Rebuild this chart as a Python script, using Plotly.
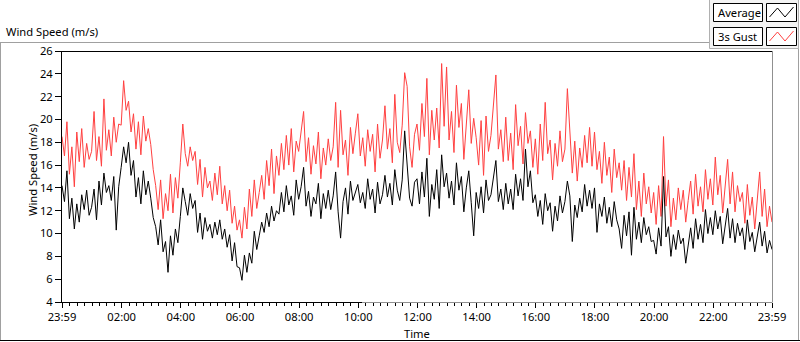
import plotly.graph_objects as go
import pandas as pd

# ---------------- data (5-minute samples, 23:59 -> 23:59) ----------------
start_time = "2023-01-01 23:59"
sample_minutes = 5

gust = [
    18.5, 16.8, 19.8, 15.2, 17.6, 14.1, 18.9, 16.3, 19.2, 15.8, 17.9, 16.5,
    17.2, 20.7, 16.4, 18.5, 15.9, 21.8, 17.3, 19.1, 16.8, 20.2, 18.0, 19.6,
    19.5, 23.4, 20.8, 21.6, 18.9, 20.5, 17.4, 19.8, 16.9, 20.3, 18.1, 19.2,
    17.8, 15.6, 14.2, 12.1, 14.7, 11.3, 13.5, 12.0, 15.2, 11.8, 14.9, 13.1,
    16.2, 19.6, 17.0, 15.9, 17.6, 16.4, 17.2, 14.3, 16.5, 13.2, 15.8, 14.0,
    14.6, 12.9, 15.3, 13.4, 15.9, 12.6, 14.2, 12.0, 13.8, 10.9, 12.4, 10.3,
    11.2, 9.6, 12.3, 10.4, 13.9, 11.5, 14.7, 12.2, 13.6, 15.1, 13.0, 16.4,
    14.2, 17.4, 13.5, 16.8, 15.1, 17.9, 15.6, 18.6, 16.0, 19.2, 15.4, 18.1,
    17.2, 19.0, 20.7, 16.3, 18.4, 15.2, 17.7, 16.1, 18.9, 14.8, 17.5, 16.0,
    18.3, 16.4, 17.6, 21.5, 15.8, 20.8, 16.9, 18.2, 15.1, 19.3, 17.0, 18.8,
    20.5, 16.8, 18.4, 15.9, 19.1, 17.2, 18.7, 15.4, 19.6, 16.6, 18.2, 21.2,
    17.4, 19.2, 16.2, 22.2, 18.0, 17.1, 19.5, 24.1, 22.9, 17.6, 15.8, 18.7,
    19.6, 17.3, 21.4, 18.5, 23.6, 16.9, 20.8, 18.2, 21.0, 17.5, 24.9, 19.4,
    24.6, 18.2, 20.7, 17.1, 23.0, 19.3, 21.4, 16.5, 19.8, 22.6, 17.9, 20.1,
    18.4, 16.0, 19.9, 15.1, 20.3, 17.2, 18.6, 21.5, 23.9, 17.4, 19.1, 16.3,
    20.2, 16.4, 18.8, 15.6, 21.3, 17.7, 19.4, 16.1, 20.6, 17.9, 19.0, 15.8,
    18.3, 15.2, 19.6, 16.4, 21.5, 17.0, 18.2, 14.7, 17.9, 15.9, 19.0, 16.3,
    17.4, 22.7, 19.2, 15.3, 18.1, 14.6, 17.5, 15.8, 18.6, 16.2, 19.3, 15.9,
    18.9, 15.6, 17.2, 14.4, 18.0, 15.1, 16.7, 13.6, 17.4, 14.9, 16.2, 13.8,
    16.4, 12.9, 15.8, 13.2, 17.0, 12.1, 14.6, 11.5, 15.3, 12.6, 14.1, 11.8,
    13.6, 10.8, 14.2, 11.5, 18.5, 12.4, 14.7, 10.6, 13.1, 11.2, 14.0, 12.1,
    13.8, 11.0, 12.9, 14.6, 11.7, 15.2, 12.4, 14.1, 11.9, 15.6, 13.0, 14.8,
    12.5, 16.7, 13.4, 15.1, 11.8, 14.3, 16.5, 12.6, 15.4, 11.9, 14.2, 12.8,
    13.6, 10.9, 14.3, 11.6, 13.2, 10.4, 12.8, 15.4, 11.5, 13.9, 10.6, 12.4,
    11.0,
]

average = [
    14.2, 12.8, 15.5, 11.3, 13.1, 10.4, 12.6, 11.0, 13.4, 12.1, 13.8, 11.6,
    12.3, 13.9, 11.2, 14.6, 12.5, 15.3, 13.6, 14.2, 12.9, 15.0, 10.3, 14.1,
    15.8, 17.6, 16.2, 18.0, 15.1, 16.4, 13.2, 14.9, 12.6, 15.5, 13.4, 14.6,
    13.1, 11.4, 10.6, 9.0, 11.2, 8.4, 9.3, 6.6, 9.8, 8.1, 10.4, 9.2,
    11.5, 14.0, 12.8, 11.6, 13.5, 12.2, 12.9, 10.1, 11.8, 9.5, 11.4, 10.2,
    10.8, 9.6, 11.0, 9.9, 11.2, 9.5, 10.4, 8.8, 9.9, 7.6, 9.2, 7.1,
    7.0, 5.9, 8.1, 6.6, 8.3, 7.4, 10.2, 8.6, 9.8, 11.0, 10.1, 11.8,
    10.6, 12.4, 11.1, 12.0, 11.7, 13.6, 11.9, 14.2, 12.5, 13.3, 11.6, 14.7,
    13.0, 14.1, 15.8, 12.4, 13.7, 11.5, 13.2, 12.6, 14.4, 11.3, 13.5, 12.2,
    13.8, 12.1, 13.3, 15.4, 11.9, 9.6, 12.8, 14.0, 11.7, 14.6, 12.9, 13.6,
    14.3, 12.7, 13.6, 12.2, 14.8, 13.0, 13.9, 11.8, 14.5, 12.6, 13.4, 15.1,
    13.2, 14.4, 12.5, 15.6, 13.8, 12.9, 14.7, 19.0, 16.3, 13.1, 12.4, 14.5,
    14.8, 12.6, 15.4, 13.2, 16.6, 11.5, 14.3, 13.0, 15.6, 12.2, 16.9, 14.1,
    15.3, 13.1, 14.6, 12.5, 16.2, 13.8, 15.0, 11.9, 14.0, 15.5, 12.7, 9.8,
    13.6, 12.2, 14.1, 11.8, 14.7, 12.9, 13.4, 14.9, 16.4, 12.8, 13.9, 12.1,
    14.4, 12.6, 13.9, 12.1, 15.2, 13.3, 14.8, 12.9, 17.4, 14.1, 15.5, 12.7,
    13.4, 11.5, 12.9, 10.8, 13.5, 12.0, 12.7, 10.2, 12.4, 11.1, 13.3, 11.8,
    12.8, 14.6, 13.3, 9.3, 12.5, 11.4, 13.1, 11.9, 14.3, 12.4, 13.8, 12.2,
    14.0, 10.1, 12.6, 11.5, 13.2, 10.9, 12.3, 10.6, 12.8, 11.2, 10.4, 8.7,
    11.6, 9.8, 11.9, 8.1, 12.3, 9.5, 11.0, 9.2, 11.4, 9.9, 10.6, 9.3,
    9.4, 8.2, 10.5, 8.9, 15.0, 9.7, 10.6, 8.0, 9.9, 8.6, 10.3, 9.1,
    9.6, 7.4, 9.0, 10.5, 8.7, 11.3, 9.5, 10.8, 9.2, 12.1, 10.0, 11.4,
    9.9, 12.0, 10.4, 11.5, 9.1, 10.8, 12.2, 9.6, 11.3, 9.2, 10.9, 9.8,
    10.5, 8.6, 11.2, 9.3, 10.1, 8.4, 9.8, 11.0, 8.9, 10.2, 8.3, 9.4,
    8.6,
]

tick_times = [
    "2023-01-01 23:59", "2023-01-02 02:00", "2023-01-02 04:00", "2023-01-02 06:00",
    "2023-01-02 08:00", "2023-01-02 10:00", "2023-01-02 12:00", "2023-01-02 14:00",
    "2023-01-02 16:00", "2023-01-02 18:00", "2023-01-02 20:00", "2023-01-02 22:00",
    "2023-01-02 23:59",
]
tick_labels = ["23:59", "02:00", "04:00", "06:00", "08:00", "10:00", "12:00",
               "14:00", "16:00", "18:00", "20:00", "22:00", "23:59"]

series_names = ["Average", "3s Gust"]
chart_title = "Wind Speed (m/s)"

times = pd.date_range(start_time, periods=len(gust), freq=f"{sample_minutes}min")

# ---------------- layout geometry (pixels) ----------------
W, H = 800, 342
L, R, T, B = 62, 772, 51, 302
FONT = "Noto Sans"
FS = 11.2


def px(x):
    return (x - L) / (R - L)


def py(y):
    return (B - y) / (B - T)


fig = go.Figure()
fig.add_trace(go.Scatter(x=times, y=gust, mode="lines", name=series_names[1],
                         line=dict(color="#ff4040", width=1), hoverinfo="skip"))
fig.add_trace(go.Scatter(x=times, y=average, mode="lines", name=series_names[0],
                         line=dict(color="#000000", width=1), hoverinfo="skip"))

shapes = []


def line(x0, y0, x1, y1, color, width=1):
    shapes.append(dict(type="line", xref="paper", yref="paper",
                       x0=px(x0), y0=py(y0), x1=px(x1), y1=py(y1),
                       line=dict(color=color, width=width), layer="above"))


def rect(x0, y0, x1, y1, fill, color, width=1):
    shapes.append(dict(type="rect", xref="paper", yref="paper",
                       x0=px(x0), y0=py(y0), x1=px(x1), y1=py(y1),
                       fillcolor=fill, line=dict(color=color, width=width), layer="above"))


# outer frame
line(0, 42.5, 710, 42.5, "#a0a0a0")
line(0.5, 42.5, 0.5, 341, "#a0a0a0")
line(798.5, 48, 798.5, 341, "#a0a0a0")
line(0, 340.5, 800, 340.5, "#000000")
# plot frame
line(L, T + 0.5, R, T + 0.5, "#000000")
line(R + 0.5, T, R + 0.5, B, "#909090")
line(L + 300, B + 0.5, R + 0.5, B + 0.5, "#909090")

# legend container and items
rect(709.5, -1, 798.5, 48.5, "#f4f4f4", "#b0b0b0")
rect(713.5, 3.5, 762.5, 21.5, "#ffffff", "#000000")
rect(766.5, 3.5, 796.5, 21.5, "#ffffff", "#000000")
rect(713.5, 27.5, 762.5, 45.5, "#ffffff", "#000000")
rect(766.5, 27.5, 796.5, 45.5, "#ffffff", "#000000")


def zig(y_lo, y_hi, color):
    pts = [(769.5, y_lo), (777.5, y_hi), (785, y_lo), (793.5, y_hi - 1)]
    path = "M " + " L ".join(f"{px(a)},{py(b)}" for a, b in pts)
    shapes.append(dict(type="path", xref="paper", yref="paper", path=path,
                       line=dict(color=color, width=1), layer="above"))


zig(17, 8, "#000000")
zig(41, 32, "#ff4040")

annotations = [
    dict(text=chart_title, x=px(4), y=py(31), xanchor="left", yanchor="middle"),
    dict(text="Time", x=px(417), y=py(333), xanchor="center", yanchor="middle"),
    dict(text=chart_title, x=px(32), y=py(170), xanchor="center", yanchor="middle",
         textangle=-90),
    dict(text=series_names[0], x=px(716), y=py(12.5), xanchor="left", yanchor="middle"),
    dict(text=series_names[1], x=px(716), y=py(36.5), xanchor="left", yanchor="middle"),
]
for a in annotations:
    a.update(xref="paper", yref="paper", showarrow=False,
             font=dict(size=FS, color="#000000", family=FONT))

fig.update_layout(
    width=W, height=H,
    margin=dict(l=L, r=W - R, t=T, b=H - B, pad=0),
    paper_bgcolor="#ffffff", plot_bgcolor="#ffffff",
    showlegend=False,
    font=dict(family=FONT, size=FS, color="#000000"),
    shapes=shapes, annotations=annotations,
    xaxis=dict(
        type="date", range=[tick_times[0], tick_times[-1]],
        tickmode="array", tickvals=tick_times, ticktext=tick_labels,
        ticks="outside", ticklen=5, tickcolor="#000000", tickwidth=1,
        showline=True, linecolor="#000000", linewidth=1,
        showgrid=False, zeroline=False,
        tickfont=dict(size=FS, family=FONT, color="#000000"),
        minor=dict(ticks="outside", ticklen=3, tickcolor="#000000",
                   dtick=15 * 60 * 1000, tick0="2023-01-02 00:00", showgrid=False),
    ),
    yaxis=dict(
        range=[4, 26], tickmode="linear", tick0=4, dtick=2,
        ticks="outside", ticklen=6, tickcolor="#000000", tickwidth=1,
        showline=True, linecolor="#000000", linewidth=1,
        showgrid=False, zeroline=False,
        tickfont=dict(size=FS, family=FONT, color="#000000"),
    ),
)

fig.write_html("out.html",
               config={"displayModeBar": False},
               post_script="document.body.style.margin='0';document.body.style.overflow='hidden';")
